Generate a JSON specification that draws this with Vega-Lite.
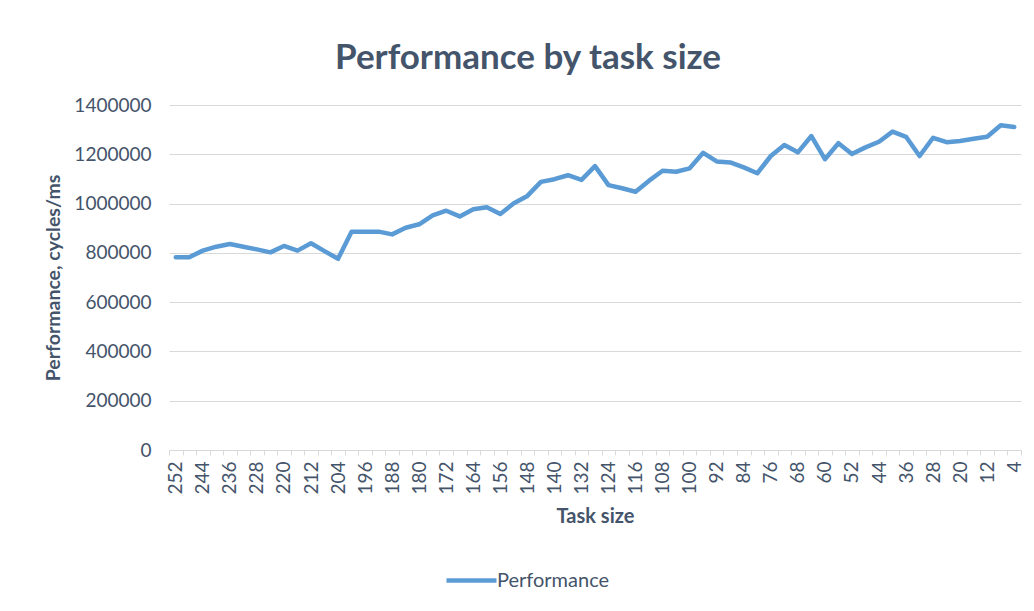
{
  "$schema": "https://vega.github.io/schema/vega-lite/v6.json",
  "width": 852,
  "height": 345,
  "autosize": {"type": "none"},
  "padding": {"left": 169, "top": 105, "right": 13, "bottom": 161},
  "background": "white",
  "title": {
    "text": "Performance by task size",
    "font": "Lato",
    "fontSize": 35,
    "fontWeight": "bold",
    "color": "#44546A",
    "anchor": "middle",
    "frame": "bounds",
    "dx": -6,
    "offset": 20
  },
  "data": {
    "values": [
      {"size": 252, "perf": 782000},
      {"size": 248, "perf": 782000},
      {"size": 244, "perf": 809000},
      {"size": 240, "perf": 825000},
      {"size": 236, "perf": 836000},
      {"size": 232, "perf": 825000},
      {"size": 228, "perf": 814000},
      {"size": 224, "perf": 802000},
      {"size": 220, "perf": 828000},
      {"size": 216, "perf": 809000},
      {"size": 212, "perf": 839000},
      {"size": 208, "perf": 807000},
      {"size": 204, "perf": 776000},
      {"size": 200, "perf": 886000},
      {"size": 196, "perf": 886000},
      {"size": 192, "perf": 886000},
      {"size": 188, "perf": 875000},
      {"size": 184, "perf": 902000},
      {"size": 180, "perf": 916000},
      {"size": 176, "perf": 952000},
      {"size": 172, "perf": 971000},
      {"size": 168, "perf": 948000},
      {"size": 164, "perf": 977000},
      {"size": 160, "perf": 985000},
      {"size": 156, "perf": 958000},
      {"size": 152, "perf": 1001000},
      {"size": 148, "perf": 1031000},
      {"size": 144, "perf": 1088000},
      {"size": 140, "perf": 1099000},
      {"size": 136, "perf": 1115000},
      {"size": 132, "perf": 1096000},
      {"size": 128, "perf": 1152000},
      {"size": 124, "perf": 1075000},
      {"size": 120, "perf": 1062000},
      {"size": 116, "perf": 1048000},
      {"size": 112, "perf": 1093000},
      {"size": 108, "perf": 1133000},
      {"size": 104, "perf": 1129000},
      {"size": 100, "perf": 1143000},
      {"size": 96, "perf": 1206000},
      {"size": 92, "perf": 1171000},
      {"size": 88, "perf": 1167000},
      {"size": 84, "perf": 1147000},
      {"size": 80, "perf": 1123000},
      {"size": 76, "perf": 1193000},
      {"size": 72, "perf": 1238000},
      {"size": 68, "perf": 1208000},
      {"size": 64, "perf": 1274000},
      {"size": 60, "perf": 1180000},
      {"size": 56, "perf": 1245000},
      {"size": 52, "perf": 1201000},
      {"size": 48, "perf": 1228000},
      {"size": 44, "perf": 1251000},
      {"size": 40, "perf": 1292000},
      {"size": 36, "perf": 1271000},
      {"size": 32, "perf": 1193000},
      {"size": 28, "perf": 1267000},
      {"size": 24, "perf": 1249000},
      {"size": 20, "perf": 1254000},
      {"size": 16, "perf": 1263000},
      {"size": 12, "perf": 1271000},
      {"size": 8, "perf": 1318000},
      {"size": 4, "perf": 1311000}
    ]
  },
  "mark": {"type": "line", "strokeWidth": 4.5, "strokeCap": "round", "strokeJoin": "round"},
  "encoding": {
    "x": {
      "field": "size",
      "type": "ordinal",
      "sort": "descending",
      "bandPosition": 0.5,
      "scale": {"type": "band", "paddingInner": 0, "paddingOuter": 0},
      "axis": {
        "title": "Task size",
        "labelAngle": -90,
        "labelAlign": "right",
        "labelBaseline": "middle",
        "labelExpr": "datum.value % 8 === 4 ? datum.label : ''",
        "labelFont": "Lato",
        "labelFontSize": 19,
        "labelColor": "#44546A",
        "labelPadding": 6,
        "labelOverlap": false,
        "tickBand": "extent",
        "tickSize": 5,
        "tickColor": "#D9D9D9",
        "domainColor": "#D9D9D9",
        "titleFont": "Lato",
        "titleFontSize": 20,
        "titleFontWeight": "bold",
        "titleColor": "#44546A",
        "titlePadding": 12,
        "grid": false
      }
    },
    "y": {
      "field": "perf",
      "type": "quantitative",
      "scale": {"domain": [0, 1400000], "nice": false},
      "axis": {
        "title": "Performance, cycles/ms",
        "values": [0, 200000, 400000, 600000, 800000, 1000000, 1200000, 1400000],
        "format": "d",
        "labelFont": "Lato",
        "labelFontSize": 19,
        "labelColor": "#44546A",
        "labelPadding": 18,
        "ticks": false,
        "domain": false,
        "gridColor": "#D9D9D9",
        "titleFont": "Lato",
        "titleFontSize": 19.5,
        "titleFontWeight": "bold",
        "titleColor": "#44546A",
        "titlePadding": 10
      }
    },
    "color": {
      "datum": "Performance",
      "type": "nominal",
      "scale": {"range": ["#5B9BD5"]},
      "legend": {
        "title": null,
        "orient": "none",
        "legendX": 275,
        "legendY": 448,
        "symbolType": "stroke",
        "symbolSize": 2500,
        "symbolStrokeWidth": 4.5,
        "labelFont": "Lato",
        "labelFontSize": 20,
        "labelColor": "#44546A",
        "labelOffset": -2
      }
    }
  },
  "config": {"view": {"stroke": null}}
}
